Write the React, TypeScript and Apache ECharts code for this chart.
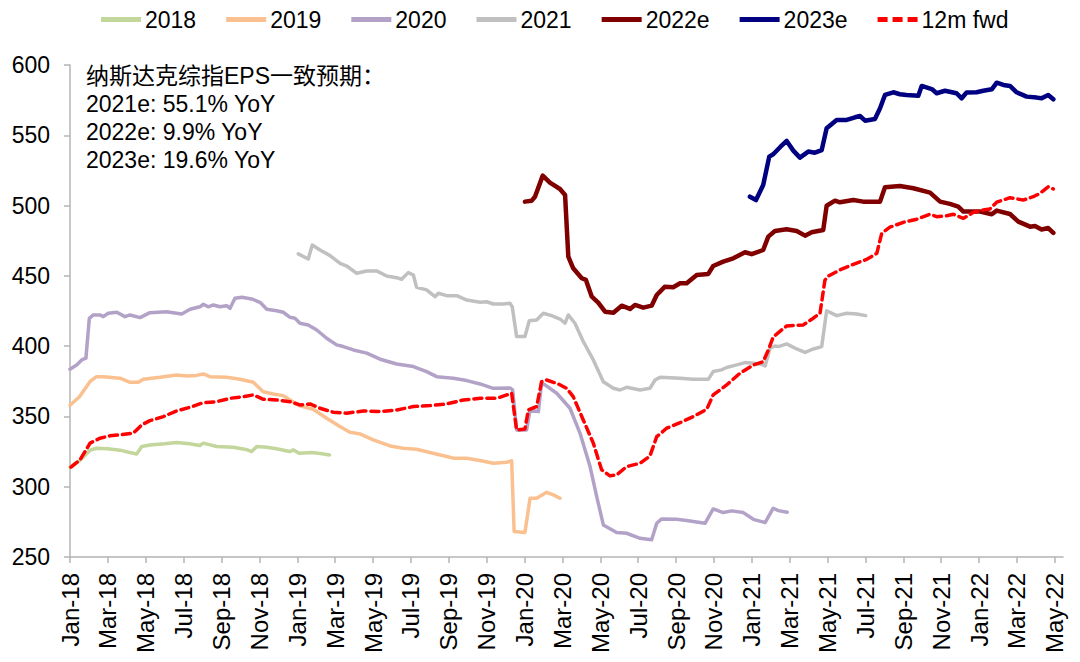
import React, { useEffect, useRef } from "react";
import * as echarts from "echarts";

// x positions are months since Jan-2018 (0 = Jan-18)
const tickLabels = [
  "Jan-18", "Mar-18", "May-18", "Jul-18", "Sep-18", "Nov-18",
  "Jan-19", "Mar-19", "May-19", "Jul-19", "Sep-19", "Nov-19",
  "Jan-20", "Mar-20", "May-20", "Jul-20", "Sep-20", "Nov-20",
  "Jan-21", "Mar-21", "May-21", "Jul-21", "Sep-21", "Nov-21",
  "Jan-22", "Mar-22", "May-22",
];

const m2018 = [0, 0.5, 1.06, 1.41, 2.0, 2.64, 3.1, 3.52, 3.79, 4.22, 5.0, 5.63, 6.3, 6.86, 7.04, 7.75, 8.62, 9.3, 9.59, 9.86, 10.4, 10.9, 11.6, 11.8, 12.1, 12.8, 13.3, 13.7];
const v2018 = [314, 318.5, 326, 327.4, 327, 326, 324.5, 323.3, 328.6, 329.7, 330.5, 331.4, 330.5, 329.3, 331, 328.6, 328.1, 326.5, 325, 328.6, 328, 327, 325, 326.2, 323.8, 324.3, 323.5, 322.6];

const m2019 = [0, 0.5, 1.05, 1.4, 1.75, 2.64, 3.17, 3.61, 3.87, 4.75, 5.63, 6.16, 6.69, 7.04, 7.39, 8.27, 8.97, 9.68, 10.2, 10.73, 11.26, 11.62, 12.14, 12.84, 13.55, 14.25, 14.78, 15.31, 16.01, 16.9, 17.6, 18.3, 19.0, 19.89, 20.24, 20.94, 21.64, 22.35, 23.05, 23.32, 23.45, 24.02, 24.29, 24.64, 25.17, 25.52, 25.87];
const v2019 = [358, 364, 374.7, 378.3, 378.3, 377.2, 374.3, 374.3, 376.4, 377.8, 379.5, 378.8, 379.2, 380.2, 378.3, 377.8, 376.4, 374.3, 367.6, 366, 364.8, 361.7, 357.5, 355.1, 348.7, 342.8, 338.8, 337.6, 333.3, 329, 327.4, 326.7, 324.3, 321.5, 320.3, 320.3, 318.6, 316.7, 317.4, 318.4, 268.1, 267.4, 291.8, 291.8, 296, 294.2, 291.8];

const m2020 = [0, 0.35, 0.62, 0.84, 1.02, 1.23, 1.58, 1.76, 2.02, 2.47, 2.9, 3.17, 3.7, 4.22, 5.1, 5.45, 5.9, 6.34, 6.86, 7.04, 7.3, 7.57, 7.92, 8.27, 8.45, 8.71, 9.07, 9.59, 10.03, 10.39, 10.91, 11.26, 11.62, 11.88, 12.14, 12.58, 13.03, 13.55, 14.08, 14.43, 14.96, 15.67, 16.37, 17.25, 18.13, 18.83, 19.36, 20.24, 20.95, 21.65, 22.35, 23.23, 23.37, 23.58, 24.11, 24.29, 24.73, 24.9, 25.08, 25.7, 26.4, 26.93, 27.46, 27.81, 28.16, 28.86, 29.39, 30.1, 30.71, 30.98, 31.24, 32.03, 32.56, 33.53, 33.96, 34.49, 34.94, 35.55, 36.08, 36.7, 37.13, 37.4, 37.87];
const v2020 = [383.6, 386.6, 390.2, 391.4, 419.8, 422.2, 422.2, 421, 423.4, 424.1, 421, 422.2, 420.3, 423.8, 424.5, 423.8, 422.9, 426.2, 428, 429.8, 428, 429.3, 428, 428.8, 426.9, 434, 434.8, 433.6, 431.2, 426.2, 425.2, 424.1, 420.5, 419.8, 416.3, 415.1, 411.5, 405.6, 400.9, 399.7, 397.3, 395, 390.7, 387.3, 385.5, 381.9, 378.3, 377.2, 375.5, 373.1, 370, 370.3, 368.9, 340.4, 340.4, 354.6, 353.4, 373.6, 372.4, 366.5, 355.8, 338, 314.3, 293, 272.8, 267.4, 266.9, 263.3, 262.2, 274, 277.1, 276.8, 275.9, 274, 284.2, 281.6, 282.8, 281.6, 276.8, 274.5, 284.7, 283, 281.8];

const m2021 = [12.05, 12.58, 12.79, 13.2, 13.73, 14.26, 14.61, 15.14, 15.67, 16.19, 16.72, 17.25, 17.51, 17.86, 18.13, 18.3, 18.83, 19.27, 19.45, 19.89, 20.42, 20.95, 21.65, 22.0, 22.35, 22.88, 23.23, 23.35, 23.58, 24.02, 24.25, 24.64, 24.99, 25.43, 25.87, 26.14, 26.31, 26.66, 27.1, 27.63, 28.16, 28.69, 29.04, 29.39, 30.1, 30.62, 30.89, 31.15, 32.21, 32.91, 33.7, 33.96, 34.4, 34.67, 35.2, 35.64, 36.08, 36.52, 36.7, 36.96, 37.22, 37.4, 37.84, 38.37, 38.81, 39.25, 39.69, 39.95, 40.48, 41.01, 41.54, 42.01];
const v2021 = [465.6, 462, 472, 468.4, 464.4, 458.9, 457, 451.8, 453.5, 453.5, 449.9, 448.7, 447.6, 452.3, 450.6, 441.8, 440, 435.2, 437.6, 435.9, 435.9, 432.8, 431.2, 431.6, 430, 430, 430.5, 428, 406.8, 406.8, 418.1, 418.6, 423.4, 421.7, 419.3, 416.3, 422.2, 416.3, 403.3, 390.2, 374.7, 370, 368.8, 370.7, 368.8, 370, 375.9, 377.8, 377.2, 376.4, 376.4, 381.9, 383.1, 384.8, 386.7, 388.3, 387.8, 387.1, 385.9, 398.5, 400.1, 399.7, 401.6, 398, 395.6, 398, 399.7, 425.2, 421.7, 423.4, 422.9, 421.7];

const m2022e = [24.02, 24.38, 24.55, 24.96, 25.34, 25.87, 26.14, 26.31, 26.57, 27.02, 27.24, 27.55, 27.89, 28.25, 28.69, 29.13, 29.57, 29.83, 30.27, 30.71, 30.98, 31.41, 31.85, 32.21, 32.56, 33.09, 33.7, 33.96, 34.49, 35.02, 35.64, 35.99, 36.6, 36.87, 37.22, 37.84, 38.37, 38.81, 39.16, 39.77, 39.95, 40.39, 40.65, 41.36, 41.88, 42.77, 43.03, 43.82, 44.53, 45.41, 45.94, 46.46, 46.9, 47.17, 48.05, 48.67, 48.93, 49.63, 50.07, 50.69, 50.95, 51.3, 51.65, 51.92];
const v2022e = [502.8, 503.5, 506.3, 521.3, 516.3, 511.8, 507.5, 463.7, 455.4, 448.3, 447.1, 435.2, 431, 424.5, 423.8, 428.8, 426.5, 429.3, 427.4, 428.8, 436.4, 442.3, 441.9, 444.7, 444.7, 450.6, 451.4, 457, 460.1, 462.5, 466.8, 465.4, 468.4, 477.9, 481.9, 483.1, 481.9, 478.6, 481, 482.6, 499.9, 503.5, 502.3, 503.9, 502.8, 502.8, 513, 513.9, 512.3, 509.2, 502.8, 501.2, 499.2, 495.7, 495.7, 493.8, 496.4, 494, 488.6, 485, 485.5, 483, 484, 480.5];

const m2023e = [35.9, 36.22, 36.6, 36.92, 37.13, 37.49, 37.84, 38.19, 38.54, 38.98, 39.33, 39.69, 39.95, 40.48, 41.01, 41.45, 41.71, 41.98, 42.5, 42.77, 43.03, 43.47, 43.82, 44.17, 44.79, 44.97, 45.5, 45.76, 46.2, 46.81, 47.08, 47.34, 47.87, 48.22, 48.67, 48.93, 49.28, 49.63, 49.98, 50.51, 51.04, 51.3, 51.65, 51.92];
const v2023e = [506.3, 503.9, 514.6, 534.8, 536.5, 541.5, 546, 539.1, 534.1, 538.4, 537.6, 539.5, 555, 560.9, 560.9, 562.8, 563.7, 560.4, 561.6, 569.2, 578.7, 580.6, 579.2, 578.7, 578.2, 585.1, 582.9, 579.9, 581.7, 579.9, 576.3, 580.4, 580.6, 581.7, 582.7, 587.4, 585.8, 585.1, 580.6, 577.5, 576.8, 576.3, 578.7, 575.6];

const mFwd = [0.05, 0.53, 1.06, 1.58, 2.11, 2.64, 3.34, 3.79, 4.22, 4.93, 5.63, 6.34, 7.04, 7.75, 8.45, 9.15, 9.68, 10.21, 10.91, 11.62, 12.14, 12.67, 13.2, 13.9, 14.61, 15.49, 16.37, 17.25, 18.13, 19.01, 19.89, 20.77, 21.65, 22.53, 23.06, 23.32, 23.58, 24.02, 24.2, 24.64, 24.9, 25.17, 25.78, 26.22, 26.57, 27.1, 27.63, 28.07, 28.51, 28.86, 29.39, 30.1, 30.62, 30.98, 31.5, 32.21, 32.91, 33.62, 33.96, 34.67, 35.37, 36.08, 36.6, 36.87, 37.13, 37.84, 38.72, 39.16, 39.6, 39.86, 40.04, 40.65, 41.36, 42.07, 42.6, 42.86, 43.29, 44.0, 44.71, 45.41, 45.76, 46.29, 46.64, 47.17, 47.7, 48.22, 48.57, 48.93, 49.63, 50.33, 50.86, 51.21, 51.65, 51.92];
const vFwd = [313.9, 319.1, 331, 334.5, 336.2, 336.9, 338.1, 344, 347, 349.9, 353.9, 356.5, 359.8, 360.5, 362.9, 364, 365.3, 362.2, 361.7, 360.5, 358.2, 358.9, 355.8, 353, 352.3, 353.9, 353.5, 354.6, 357, 357.7, 358.9, 361.7, 362.9, 362.9, 365.3, 366.5, 340.4, 341.1, 354.6, 357, 374.7, 375.9, 373.1, 370, 364.1, 347.5, 331, 312, 307.7, 308.4, 314.3, 316.7, 321.9, 335.6, 341.6, 345.6, 349.9, 355.1, 365.3, 372.4, 380.7, 386.6, 388.9, 397.2, 406.6, 414.4, 415.1, 419.1, 423.4, 447, 449.9, 454.2, 458.2, 461.8, 466, 480.3, 484.6, 488.1, 490.3, 493.8, 492.1, 492.8, 493.8, 490.9, 495.2, 496.9, 497.6, 502.4, 505.6, 503.9, 506.3, 508.7, 513.4, 511.8];

const noteLines = [
  "纳斯达克综指EPS一致预期：",
  "2021e: 55.1% YoY",
  "2022e: 9.9% YoY",
  "2023e: 19.6% YoY",
];

const FONT = "'Liberation Sans', Arial, 'Noto Sans CJK SC', sans-serif";

const SOLID_ICON = "path://M0,0 H40 V5 H0 Z";
const DASH_ICON = "path://M0,0 H10 V5 H0 Z M15,0 H25 V5 H15 Z M30,0 H40 V5 H30 Z";

const pair = (ms: number[], vs: number[]) => ms.map((m, i) => [m, vs[i]]);

export default function App() {
  const ref = useRef<HTMLDivElement>(null);
  useEffect(() => {
    if (!ref.current) return;
    const chart = echarts.init(ref.current, null, { renderer: "svg" });
    const mk = (name: string, ms: number[], vs: number[], color: string, width: number, type: any = "solid") => ({
      name,
      type: "line",
      data: pair(ms, vs),
      symbol: "none",
      showSymbol: false,
      smooth: false,
      lineStyle: { color, width, type, cap: "round", join: "round" },
      itemStyle: { color },
    });
    chart.setOption({
      animation: false,
      backgroundColor: "#ffffff",
      textStyle: { fontFamily: FONT },
      legend: {
        left: 96,
        top: 3,
        itemWidth: 40,
        itemHeight: 5,
        itemGap: 30,
        textStyle: { fontSize: 23, color: "#000", fontFamily: FONT, padding: [0, 0, 0, -1] },
        data: [
          { name: "2018", icon: SOLID_ICON },
          { name: "2019", icon: SOLID_ICON },
          { name: "2020", icon: SOLID_ICON },
          { name: "2021", icon: SOLID_ICON },
          { name: "2022e", icon: SOLID_ICON },
          { name: "2023e", icon: SOLID_ICON },
          { name: "12m fwd", icon: DASH_ICON },
        ],
      },
      grid: { left: 70, right: 17, top: 65, bottom: 105, containLabel: false },
      xAxis: {
        type: "value",
        min: 0,
        max: 52.43,
        interval: 2,
        axisLine: { show: true, onZero: false, lineStyle: { color: "#b4b4b4", width: 1.5 } },
        axisTick: { show: true, length: 6, lineStyle: { color: "#b4b4b4", width: 1.5 } },
        splitLine: { show: false },
        axisLabel: {
          rotate: 90,
          margin: 16,
          fontSize: 24,
          color: "#000",
          fontFamily: FONT,
          showMaxLabel: false,
          formatter: (v: number) => {
            const idx = Math.round(v / 2);
            return Math.abs(v - idx * 2) < 1e-6 && idx < tickLabels.length ? tickLabels[idx] : "";
          },
        },
      },
      yAxis: {
        type: "value",
        min: 250,
        max: 600,
        interval: 50,
        axisLine: { show: true, lineStyle: { color: "#b4b4b4", width: 1.5 } },
        axisTick: { show: true, length: 6, lineStyle: { color: "#b4b4b4", width: 1.5 } },
        splitLine: { show: false },
        axisLabel: { margin: 20, fontSize: 23, color: "#000", fontFamily: FONT },
      },
      graphic: [
        {
          type: "text",
          left: 86,
          top: 62,
          style: {
            text: noteLines.join("\n"),
            fontSize: 23,
            lineHeight: 28,
            fill: "#000",
            fontFamily: FONT,
          },
        },
      ],
      series: [
        mk("2018", m2018, v2018, "#c3d69b", 3.5),
        mk("2019", m2019, v2019, "#fac090", 3.5),
        mk("2020", m2020, v2020, "#b3a2c7", 3.5),
        mk("2021", m2021, v2021, "#c0c0c0", 3.5),
        mk("2022e", m2022e, v2022e, "#800000", 4.5),
        mk("2023e", m2023e, v2023e, "#000080", 4.5),
        mk("12m fwd", mFwd, vFwd, "#ff0000", 3.5, [8, 5]),
      ],
    });
    return () => chart.dispose();
  }, []);
  return (
    <div
      ref={ref}
      style={{ position: "fixed", left: 0, top: 0, width: 1080, height: 662 }}
    />
  );
}
